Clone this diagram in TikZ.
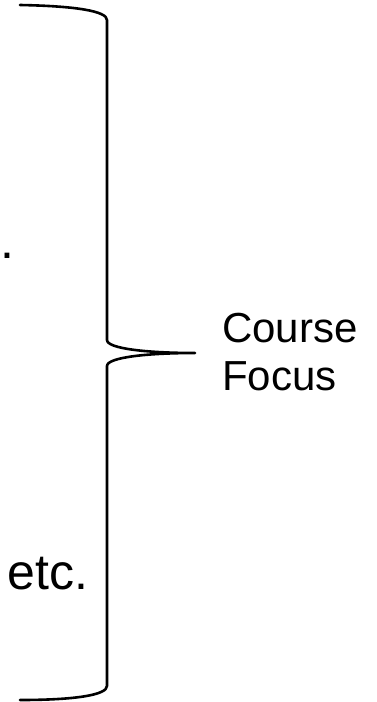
\documentclass[tikz,border=0pt]{standalone}
\usepackage{fontspec}
\setmainfont{Liberation Sans}
\usetikzlibrary{positioning}
\tikzset{
  txt/.style={inner sep=0pt, outer sep=0pt, font=\fontsize{42}{50}\selectfont},
  bigtxt/.style={inner sep=0pt, outer sep=0pt, font=\fontsize{50}{60}\selectfont},
  brace/.style={line width=2.6pt, line cap=round, line join=round}
}

\begin{document}
\begin{tikzpicture}[x=1pt,y=-1pt]
        \useasboundingbox (0,0) rectangle (376,702);
        \node[bigtxt, anchor=base west] (dot) at (0,258) {.};
        \node[bigtxt, anchor=base west] (etc) at (8,589) {etc.};
        \node[txt, anchor=base west] (course) at (222,342) {Course};
        \node[txt, anchor=base west] (focus) at (222,390) {Focus};
        \coordinate (top) at (20,5);
        \coordinate (tip) at (195,353);
        \coordinate (bottom) at (20,700);
        % the big brace
        \draw[brace] (top) .. controls (75,6) and (107,11) .. (107,20)
          -- (107,340) .. controls (107,349) and (150,353) .. (tip)
          .. controls (150,353) and (107,357) .. (107,366)
          -- (107,686) .. controls (107,695) and (75,700) .. (bottom);
      \end{tikzpicture}
\end{document}
